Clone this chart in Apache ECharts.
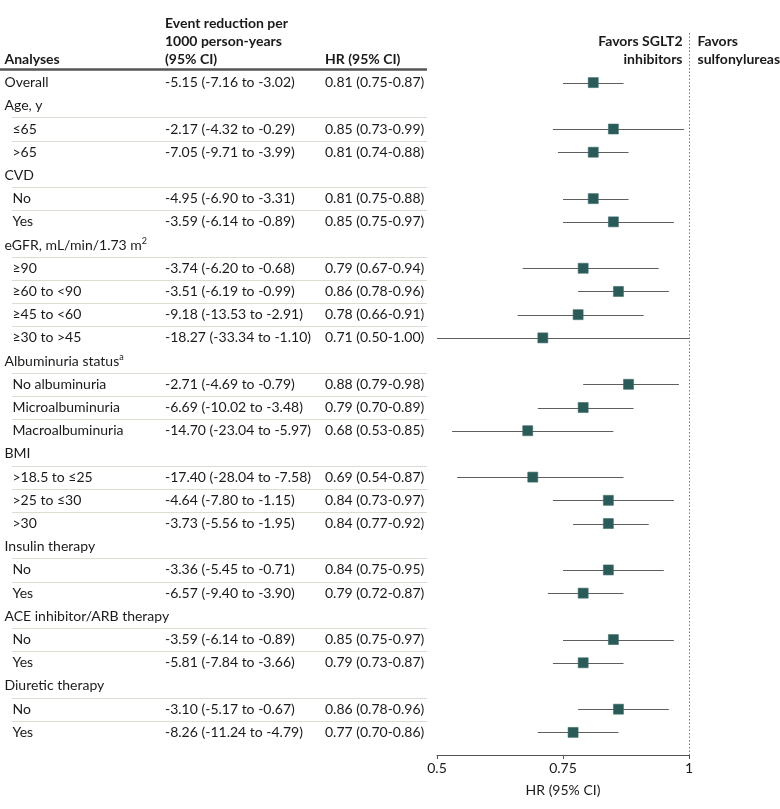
<!DOCTYPE html>
<html>
<head>
<meta charset="utf-8">
<script src="https://cdn.jsdelivr.net/npm/echarts@6/dist/echarts.min.js"></script>
<style>
html,body{margin:0;padding:0;background:#fff;}
#chart{width:780px;height:809px;}
</style>
</head>
<body>
<div id="chart"></div>
<script>
// ---- data ----
const rowLabels = ['Overall','Age, y','≤65','>65','CVD','No','Yes','eGFR, mL/min/1.73 m{sup|2}','≥90','≥60 to <90','≥45 to <60','≥30 to >45',
  'Albuminuria status{sup|a}','No albuminuria','Microalbuminuria','Macroalbuminuria','BMI','>18.5 to ≤25','>25 to ≤30','>30',
  'Insulin therapy','No','Yes','ACE inhibitor/ARB therapy','No','Yes','Diuretic therapy','No','Yes'];
// 0 = top-level row, 1 = indented sub-row
const rowLevel = [0,0,1,1,0,1,1,0,1,1,1,1,0,1,1,1,0,1,1,1,0,1,1,0,1,1,0,1,1];
const eventText = ['-5.15 (-7.16 to -3.02)','','-2.17 (-4.32 to -0.29)','-7.05 (-9.71 to -3.99)','','-4.95 (-6.90 to -3.31)','-3.59 (-6.14 to -0.89)','',
  '-3.74 (-6.20 to -0.68)','-3.51 (-6.19 to -0.99)','-9.18 (-13.53 to -2.91)','-18.27 (-33.34 to -1.10)','',
  '-2.71 (-4.69 to -0.79)','-6.69 (-10.02 to -3.48)','-14.70 (-23.04 to -5.97)','',
  '-17.40 (-28.04 to -7.58)','-4.64 (-7.80 to -1.15)','-3.73 (-5.56 to -1.95)','',
  '-3.36 (-5.45 to -0.71)','-6.57 (-9.40 to -3.90)','','-3.59 (-6.14 to -0.89)','-5.81 (-7.84 to -3.66)','',
  '-3.10 (-5.17 to -0.67)','-8.26 (-11.24 to -4.79)'];
const hr   = [0.81,null,0.85,0.81,null,0.81,0.85,null,0.79,0.86,0.78,0.71,null,0.88,0.79,0.68,null,0.69,0.84,0.84,null,0.84,0.79,null,0.85,0.79,null,0.86,0.77];
const hrLo = [0.75,null,0.73,0.74,null,0.75,0.75,null,0.67,0.78,0.66,0.50,null,0.79,0.70,0.53,null,0.54,0.73,0.77,null,0.75,0.72,null,0.75,0.73,null,0.78,0.70];
const hrHi = [0.87,null,0.99,0.88,null,0.88,0.97,null,0.94,0.96,0.91,1.00,null,0.98,0.89,0.85,null,0.87,0.97,0.92,null,0.95,0.87,null,0.97,0.87,null,0.96,0.86];
const xTicks = [0.5, 0.75, 1];
const axisTitle = 'HR (95% CI)';
const colHeaders = { analyses: 'Analyses', event: ['Event reduction per','1000 person-years','(95% CI)'], hr: 'HR (95% CI)' };
const favorsLeft = ['Favors SGLT2','inhibitors'];
const favorsRight = ['Favors','sulfonylureas'];

// ---- styles ----
const FONT = 'Lato';
const FS = 14;
const TXT = '#1a1a1a';
const MARK = '#2b5b58';

function fmtHR(i){ return hr[i]==null ? '' : hr[i].toFixed(2)+' ('+hrLo[i].toFixed(2)+'-'+hrHi[i].toFixed(2)+')'; }

const chart = echarts.init(document.getElementById('chart'), null, {renderer:'canvas'});
const richStyle = {
  n: {fontFamily: FONT, fontSize: FS, fill: TXT, lineHeight: 16},
  sup: {fontFamily: FONT, fontSize: 9, fill: TXT, lineHeight: 16, verticalAlign: 'top'}
};

const tableData = rowLabels.map((l,i)=>[0.75, i]);
const forestData = rowLabels.map((l,i)=> hr[i]==null ? null : [hr[i], i, hrLo[i], hrHi[i]]).filter(d=>d);

const option = {
  animation: false,
  grid: {left: 437, right: 91, top: 71, height: 673, containLabel: false},
  xAxis: {
    type: 'value', min: xTicks[0], max: xTicks[xTicks.length-1], interval: 0.25,
    offset: 11,
    axisLine: {show: true, lineStyle: {color: '#555', width: 1}},
    axisTick: {show: true, length: 4, lineStyle: {color: '#555'}},
    splitLine: {show: false},
    axisLabel: {fontFamily: FONT, fontSize: FS, color: TXT, margin: 6},
    name: axisTitle, nameLocation: 'middle', nameGap: 28,
    nameTextStyle: {fontFamily: FONT, fontSize: FS, color: TXT}
  },
  yAxis: {
    type: 'category', inverse: true, data: rowLabels.map((l,i)=>String(i)),
    show: false
  },
  series: [
    {
      type: 'custom', clip: false, z: 1,
      data: tableData,
      renderItem: function(params, api){
        const i = params.dataIndex;
        const y = api.coord([0.75, i])[1];
        const band = api.size([0, 1])[1];
        const children = [];
        const lvl = rowLevel[i];
        children.push({type:'text', style:{text: '{n|'+rowLabels[i].replace(/\{sup\|(.*?)\}/g,'}{sup|$1}{n|')+'}', rich: richStyle, x: lvl ? 12.5 : 4.5, y: y, verticalAlign:'middle', align:'left'}});
        if (eventText[i]) children.push({type:'text', style:{text: eventText[i], x: 165, y: y, verticalAlign:'middle', fontFamily: FONT, fontSize: FS, fill: TXT}});
        if (hr[i]!=null) children.push({type:'text', style:{text: fmtHR(i), x: 325, y: y, verticalAlign:'middle', fontFamily: FONT, fontSize: FS, fill: TXT}});
        if (lvl === 1) {
          const ly = Math.round(y - band/2) + 0.5;
          children.push({type:'line', shape:{x1: 12, y1: ly, x2: 427, y2: ly}, style:{stroke:'#dcdcd3', lineWidth: 1}});
        }
        return {type:'group', children};
      }
    },
    {
      type: 'custom', clip: false, z: 2,
      data: forestData,
      encode: {x: 0, y: 1},
      renderItem: function(params, api){
        const c = api.coord([api.value(0), api.value(1)]);
        const lo = api.coord([api.value(2), api.value(1)]);
        const hi = api.coord([api.value(3), api.value(1)]);
        const s = 10;
        const yy = Math.round(c[1]) + 0.5;
        return {type:'group', children:[
          {type:'line', shape:{x1: lo[0], y1: yy, x2: hi[0], y2: yy}, style:{stroke:'#5e5e5e', lineWidth: 1.2}},
          {type:'rect', shape:{x: c[0]-s/2, y: c[1]-s/2, width: s, height: s}, style:{fill: MARK, stroke:'#3d6c69', lineWidth: 0.6}}
        ]};
      }
    },
    {
      type: 'custom', clip: false, z: 0,
      data: [[1, 0]],
      renderItem: function(params, api){
        const x = Math.round(api.coord([1, 0])[0]) + 0.5;
        const ax = api.coord([1, rowLabels.length-1])[1] + api.size([0,1])[1]/2 + 11;
        const children = [
          {type:'line', shape:{x1: x, y1: 33, x2: x, y2: ax}, style:{stroke:'#777', lineWidth: 1, lineDash:[1.5,2]}},
          {type:'line', shape:{x1: 0, y1: 69.5, x2: 427, y2: 69.5}, style:{stroke:'#555', lineWidth: 2.5}},
          {type:'text', style:{text: colHeaders.analyses, x: 4.5, y: 59, verticalAlign:'middle', fontFamily: FONT, fontWeight:'bold', fontSize: FS, fill: TXT}},
          {type:'text', style:{text: colHeaders.hr, x: 325, y: 59, verticalAlign:'middle', fontFamily: FONT, fontWeight:'bold', fontSize: FS, fill: TXT}}
        ];
        colHeaders.event.forEach((t,k)=>children.push({type:'text', style:{text: t, x: 165, y: 23 + 18*k, verticalAlign:'middle', fontFamily: FONT, fontWeight:'bold', fontSize: FS, fill: TXT}}));
        favorsLeft.forEach((t,k)=>children.push({type:'text', style:{text: t, x: x - 7, y: 41.5 + 18*k, verticalAlign:'middle', align:'right', fontFamily: FONT, fontWeight:'bold', fontSize: FS, fill: TXT}}));
        favorsRight.forEach((t,k)=>children.push({type:'text', style:{text: t, x: x + 8, y: 41.5 + 18*k, verticalAlign:'middle', align:'left', fontFamily: FONT, fontWeight:'bold', fontSize: FS, fill: TXT}}));
        return {type:'group', children};
      }
    }
  ]
};
chart.setOption(option);
</script>
</body>
</html>
